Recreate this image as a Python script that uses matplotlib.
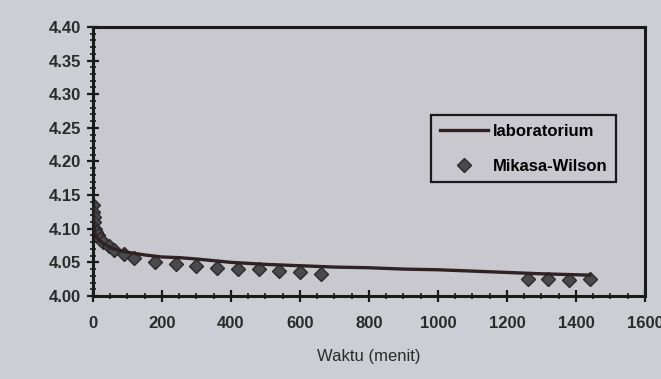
import matplotlib
matplotlib.use('Agg')
import matplotlib.pyplot as plt
from matplotlib.ticker import MultipleLocator, FormatStrFormatter

plt.rcParams['font.family'] = ['Liberation Sans', 'DejaVu Sans']
plt.rcParams['font.weight'] = 'bold'

# laboratorium measurement (continuous curve)
lab_t = [0, 2, 5, 10, 20, 30, 50, 75, 100, 150, 200, 250, 300, 400, 500,
         600, 700, 800, 900, 1000, 1100, 1200, 1300, 1440]
lab_v = [4.130, 4.110, 4.095, 4.088, 4.082, 4.078, 4.072, 4.068, 4.065, 4.061,
         4.058, 4.057, 4.055, 4.050, 4.047, 4.045, 4.043, 4.042, 4.040, 4.039,
         4.037, 4.035, 4.033, 4.031]

# Mikasa-Wilson prediction
mw_t = [0, 1, 2, 3, 5, 10, 15, 20, 30, 45, 60, 90, 120, 180, 240, 300, 360,
        420, 480, 540, 600, 660, 1260, 1320, 1380, 1440]
mw_v = [4.135, 4.125, 4.118, 4.110, 4.100, 4.095, 4.090, 4.085, 4.080, 4.075,
        4.068, 4.063, 4.057, 4.051, 4.047, 4.044, 4.041, 4.040, 4.040, 4.037,
        4.036, 4.032, 4.025, 4.025, 4.024, 4.025]

fig = plt.figure(figsize=(6.61, 3.79), dpi=100, facecolor='#cbced4')
ax = fig.add_axes([0.1407, 0.219, 0.835, 0.710], facecolor='#c8c8ce')

ax.plot(lab_t, lab_v, color='#2e2222', lw=2.4, label='laboratorium', zorder=3)
ax.plot(mw_t, mw_v, linestyle='none', marker='D', ms=7, mfc='#4a4a4c',
        mec='#2a2a2a', mew=1.0, label='Mikasa-Wilson', zorder=2)

ax.set_xlim(0, 1600)
ax.set_ylim(4.00, 4.40)
ax.xaxis.set_major_locator(MultipleLocator(200))
ax.xaxis.set_minor_locator(MultipleLocator(50))
ax.yaxis.set_major_locator(MultipleLocator(0.05))
ax.yaxis.set_minor_locator(MultipleLocator(0.01))
ax.yaxis.set_major_formatter(FormatStrFormatter('%.2f'))

for s in ax.spines.values():
    s.set_linewidth(2.2)
    s.set_color('#1a1a1a')

ax.tick_params(which='major', direction='inout', length=9, width=1.6,
               labelsize=12, colors='#1a1a1a', pad=4)
ax.tick_params(which='minor', direction='inout', length=5, width=1.2,
               colors='#1a1a1a')
ax.tick_params(axis='x', pad=10)
for lbl in ax.get_xticklabels() + ax.get_yticklabels():
    lbl.set_color('#2a2a2a')

ax.set_xlabel('Waktu (menit)', fontsize=12, color='#2a2a2a', labelpad=13)

leg = ax.legend(loc='upper left', bbox_to_anchor=(423 / 661, 1 - 107 / 379),
                bbox_transform=fig.transFigure, fontsize=12, frameon=True,
                fancybox=False, edgecolor='#1a1a1a', facecolor='#c8c8ce',
                framealpha=1, handlelength=2.9, handletextpad=0.3,
                labelspacing=1.2, borderpad=0.5)
leg.get_frame().set_linewidth(1.6)

fig.savefig('out.png', dpi=100, facecolor=fig.get_facecolor())
